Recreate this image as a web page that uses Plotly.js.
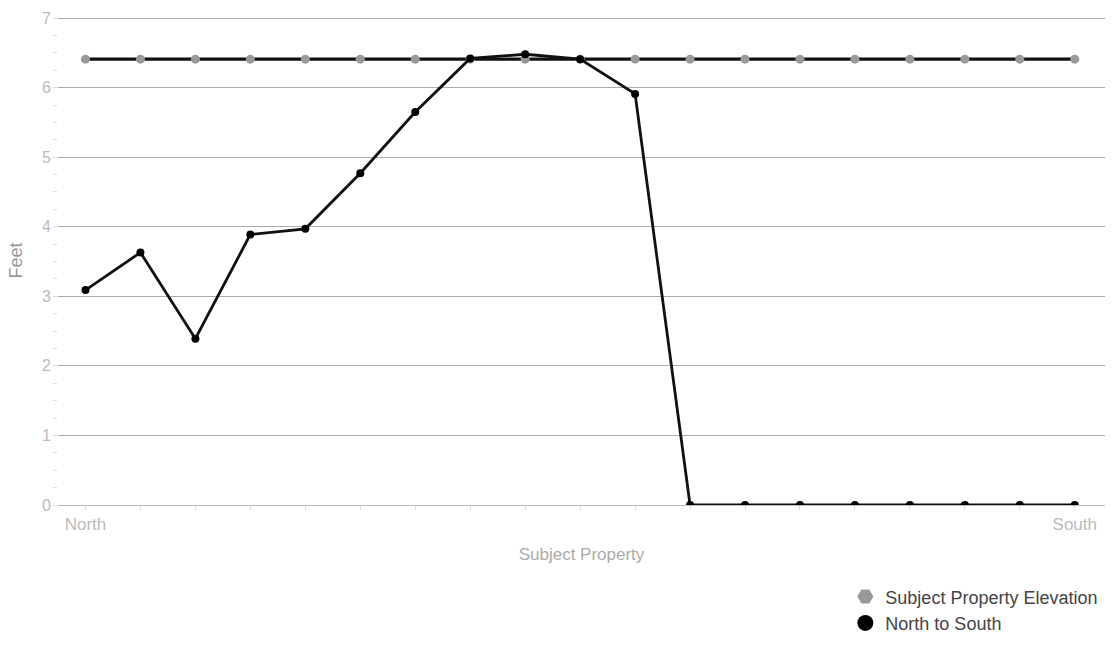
<!DOCTYPE html>
<html><head><meta charset="utf-8">
<script src="https://cdn.plot.ly/plotly-3.0.1.min.js"></script>
<style>html,body{margin:0;padding:0;background:#fff;}#chart{width:1120px;height:662px;}</style>
</head><body><div id="chart"></div>
<script>
const positions = [0,1,2,3,4,5,6,7,8,9,10,11,12,13,14,15,16,17,18];
const tickLabels = ["North","","","","","","","","","","","","","","","","","","South"];
const subjectElevation = [6.41,6.41,6.41,6.41,6.41,6.41,6.41,6.41,6.41,6.41,6.41,6.41,6.41,6.41,6.41,6.41,6.41,6.41,6.41];
const northToSouth = [3.09,3.63,2.39,3.89,3.97,4.77,5.65,6.42,6.48,6.41,5.91,0,0,0,0,0,0,0,0];
const seriesNames = ["Subject Property Elevation","North to South"];

const traces = [
  {x: positions, y: subjectElevation, mode: 'lines+markers', showlegend:false,
   line:{color:'#111', width:3.2}, marker:{color:'#999', size:9, symbol:'circle'}},
  {x: positions, y: northToSouth, mode: 'lines+markers', showlegend:false,
   line:{color:'#111', width:2.8}, marker:{color:'#000', size:8}},
  {x:[null], y:[null], mode:'markers', name: seriesNames[0], marker:{color:'#999', size:16, symbol:'hexagon2'}},
  {x:[null], y:[null], mode:'markers', name: seriesNames[1], marker:{color:'#000', size:16}}
];

const layout = {
  width:1120, height:662,
  margin:{l:58, r:15, t:16, b:157},
  paper_bgcolor:'#fff', plot_bgcolor:'#fff',
  font:{family:'"Liberation Sans", Arial, sans-serif', color:'#bbb', size:15},
  xaxis:{range:[-0.5,18.55], tickvals:positions, ticktext:tickLabels, showgrid:false, zeroline:false,
    showline:true, linecolor:'#bbb', linewidth:1, ticks:'outside', ticklen:4, tickcolor:'#ddd',
    tickfont:{size:17, color:'#bbb'},
    title:{text:'Subject Property', font:{size:17, color:'#aaa'}, standoff:14}},
  yaxis:{range:[0,7.03], tickvals:[0,1,2,3,4,5,6,7], showgrid:true, gridcolor:'#aaa', gridwidth:1, zeroline:false,
    ticks:'', ticklabelstandoff:6, tickfont:{size:16, color:'#bbb'},
    minor:{dtick:0.25, ticks:'outside', ticklen:4, tickcolor:'#ddd', showgrid:false},
    title:{text:'Feet', font:{size:18, color:'#999'}, standoff:14}},
  legend:{x:0.752, y:-0.15, xanchor:'left', yanchor:'top', bgcolor:'rgba(0,0,0,0)',
    font:{size:18, color:'#444'}, itemwidth:30, tracegroupgap:0}
};
Plotly.newPlot('chart', traces, layout, {displayModeBar:false});
</script></body></html>
